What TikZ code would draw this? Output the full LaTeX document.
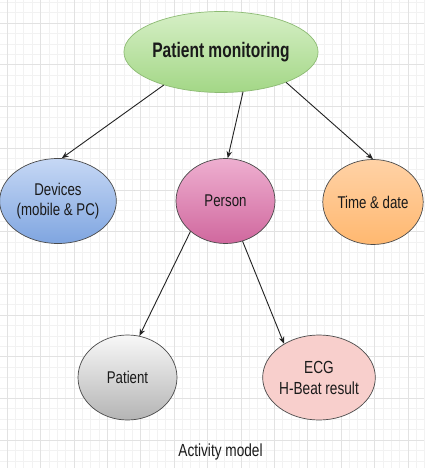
\documentclass[tikz,border=0pt]{standalone}
\usepackage{fontspec}
\setmainfont{Liberation Sans}[FakeStretch=0.78]
\newfontfamily\titlefont{Liberation Sans}[FakeStretch=0.74]
\usetikzlibrary{shapes.geometric,arrows.meta}

\definecolor{gridmajor}{HTML}{E2E2E2}
\definecolor{gridminor}{HTML}{F2F2F2}
\definecolor{textcol}{HTML}{1A1A1A}
\definecolor{linkcol}{HTML}{222222}
\definecolor{edgecol}{HTML}{4A4A4A}
\definecolor{greentop}{HTML}{D6EFC6}
\definecolor{greenbot}{HTML}{A3D786}
\definecolor{greenedge}{HTML}{8DBB74}
\definecolor{bluetop}{HTML}{C6D8F5}
\definecolor{bluebot}{HTML}{7FA5E0}
\definecolor{pinktop}{HTML}{EEAFD0}
\definecolor{pinkbot}{HTML}{D0689E}
\definecolor{orangetop}{HTML}{FFD2A6}
\definecolor{orangebot}{HTML}{FFB870}
\definecolor{greytop}{HTML}{F8F8F8}
\definecolor{greybot}{HTML}{B4B4B4}
\definecolor{rosefill}{HTML}{F8CFCC}

\tikzset{
  bubble/.style={ellipse, draw=edgecol, line width=0.7pt, inner sep=0pt,
    minimum width=99pt, minimum height=85pt, align=center,
    font=\fontsize{17}{20.5}\selectfont, text=textcol},
  link/.style={draw=linkcol, line width=0.9pt,
    -{Stealth[length=7pt,width=5.5pt]}},
  gridline/.style={line width=0.5pt},
}

\begin{document}
\begin{tikzpicture}[x=1pt,y=-1pt]
  \useasboundingbox (0,0) rectangle (424,468);
  \fill[white] (0,0) rectangle (424,468);

  % background grid: faint minor lines, stronger major lines
  \foreach \i in {-4,...,52} {
    \draw[gridline, gridminor] ({7+8.35*\i},0) -- ({7+8.35*\i},468);
  }
  \foreach \j in {-3,...,45} {
    \draw[gridline, gridminor] (0,{23+10.425*\j}) -- (424,{23+10.425*\j});
  }
  \foreach \i in {0,...,12} {
    \draw[gridline, gridmajor] ({7+33.4*\i},0) -- ({7+33.4*\i},468);
  }
  \foreach \j in {0,...,10} {
    \draw[gridline, gridmajor] (0,{23+41.7*\j}) -- (424,{23+41.7*\j});
  }

  % nodes
  \node[bubble, minimum width=158pt, minimum height=81pt, draw=greenedge,
        top color=greentop, bottom color=greenbot,
        font=\titlefont\bfseries\fontsize{21}{25}\selectfont]
        (mon) at (221,52) {Patient monitoring};

  \node[bubble, top color=bluetop, bottom color=bluebot]
        (dev) at (58,201) {Devices\\(mobile \& PC)};
  \node[bubble, top color=pinktop, bottom color=pinkbot]
        (per) at (225.5,201) {Person};
  \node[bubble, minimum width=96pt, top color=orangetop, bottom color=orangebot]
        (time) at (373,202) {Time \& date};
  \node[bubble, top color=greytop, bottom color=greybot]
        (pat) at (127.5,377.5) {Patient};
  \node[bubble, minimum width=108pt, fill=rosefill,
        font=\fontsize{17.5}{21}\selectfont]
        (ecg) at (319,377.5) {ECG\\H-Beat result};

  \node[anchor=base, text=textcol, inner sep=0pt,
        font=\fontsize{17.5}{21}\selectfont]
        (cap) at (220.5,456.5) {Activity model};

  % connectors
  \draw[link] (mon.210) -- (dev.85);
  \draw[link] (mon.299) -- (per.87);
  \draw[link] (mon.335) -- (time.90);
  \draw[link] (per.221) -- (pat.74);
  \draw[link] (per.293) -- (ecg.136);
\end{tikzpicture}
\end{document}
